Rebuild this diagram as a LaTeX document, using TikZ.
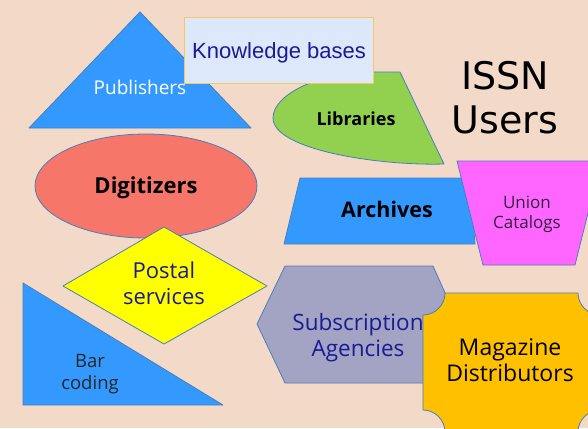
\documentclass[tikz,border=0pt]{standalone}
\usepackage{fontspec}
\setmainfont{Open Sans}
\newfontfamily\kbfont{Liberation Sans}
\newfontfamily\titlefont{DejaVu Sans}
\definecolor{bg}{HTML}{F3D9C8}
\definecolor{shapeblue}{HTML}{3399FF}
\definecolor{edge}{HTML}{4A7EBB}
\definecolor{salmon}{HTML}{F6766A}
\definecolor{libgreen}{HTML}{92D050}
\definecolor{magentaf}{HTML}{FF66FF}
\definecolor{yel}{HTML}{FFFF00}
\definecolor{grayp}{HTML}{A3A3C3}
\definecolor{orangef}{HTML}{FFC000}
\definecolor{kbfill}{HTML}{DDE8FB}
\definecolor{kbedge}{HTML}{F5C862}
\definecolor{darkblue}{HTML}{1A1A96}
\definecolor{darkpurple}{HTML}{33203F}
\tikzset{
  shp/.style={draw=edge, line width=0.8pt, line join=round},
  lbl/.style={anchor=base, align=center, inner sep=0pt},
}
\begin{document}
\begin{tikzpicture}[x=1pt,y=-1pt]
\useasboundingbox (0,0) rectangle (588,428);
\clip (0,0) rectangle (588,428);
\fill[bg] (0,0) rectangle (588,428);
% Publishers
\filldraw[shp, fill=shapeblue] (140,12) -- (251,128) -- (29,128) -- cycle;
\node[lbl, text=white, font=\fontsize{19}{23}\selectfont] (pub) at (140,94) {Publishers};
% Libraries
\filldraw[shp, fill=libgreen] (400,72) -- (444,164) .. controls (380,166) and (273,150) .. (273,118) .. controls (273,94) and (320,72) .. (372,72) -- cycle;
\node[lbl, font=\bfseries\fontsize{18}{22}\selectfont] (lib) at (356,125) {Libraries};
% Knowledge bases
\filldraw[draw=kbedge, line width=0.8pt, fill=kbfill] (184,17) rectangle (373,83);
\node[lbl, text=darkblue, font=\kbfont\fontsize{22}{26}\selectfont] (kb) at (279,59) {Knowledge bases};
% ISSN Users
\node[lbl, font=\titlefont\fontsize{38}{44}\selectfont] (title) at (505,133) {ISSN\\Users};
% Digitizers
\filldraw[shp, fill=salmon] (146,186) ellipse [x radius=111, y radius=52];
\node[lbl, font=\bfseries\fontsize{22}{26}\selectfont] (dig) at (146,193) {Digitizers};
% Archives
\filldraw[shp, fill=shapeblue] (300,178) -- (470,178) -- (475,244) -- (284,244) -- cycle;
\node[lbl, font=\bfseries\fontsize{21.5}{26}\selectfont] (arc) at (387,217) {Archives};
% Union Catalogs
\filldraw[shp, fill=magentaf] (457,161) -- (601,161) -- (575,265) -- (483,265) -- cycle;
\node[lbl, text=darkpurple, font=\fontsize{17}{20}\selectfont] (union) at (527,228) {Union\\Catalogs};
% Postal services
\filldraw[shp, fill=yel] (164,227) -- (267,286) -- (164,344) -- (63,286) -- cycle;
\node[lbl, text=darkblue, font=\fontsize{22}{26}\selectfont] (postal) at (164,304) {Postal\\services};
% Bar coding
\filldraw[shp, fill=shapeblue] (23,283) -- (223,405) -- (23,405) -- cycle;
\node[lbl, text=black!85, font=\fontsize{18.5}{22}\selectfont] (bar) at (90,389) {Bar\\coding};
% Subscription Agencies
\filldraw[shp, fill=grayp] (285,266) -- (433,266) -- (459,324) -- (433,383) -- (285,383) -- (257,324) -- cycle;
\node[lbl, text=darkblue, font=\fontsize{22.5}{26}\selectfont] (subs) at (358,356) {Subscription\\Agencies};
% Magazine Distributors
\filldraw[shp, fill=orangef] (445,293) -- (578,293) .. controls (578,305) and (588,315) .. (600,315) -- (600,410) .. controls (588,410) and (578,420) .. (578,432) -- (445,432) .. controls (445,420) and (435,410) .. (423,410) -- (423,315) .. controls (435,315) and (445,305) .. (445,293) -- cycle;
\node[lbl, font=\fontsize{23}{26}\selectfont] (mag) at (510,381) {Magazine\\Distributors};
\end{tikzpicture}
\end{document}
